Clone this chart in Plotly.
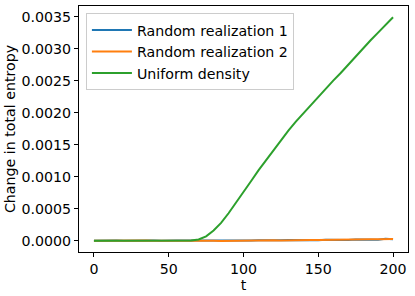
import plotly.graph_objects as go

t = [0, 5, 10, 15, 20, 25, 30, 35, 40, 45, 50, 55, 60, 65, 70, 75, 80, 85, 90, 95, 100,
     105, 110, 115, 120, 125, 130, 135, 140, 145, 150, 155, 160, 165, 170, 175, 180,
     185, 190, 195, 200]

random_1 = [0.0, 0.000004, 0.000006, 0.000003, 0.000002, 0.000005, 0.000003, 0.000006,
            0.000004, 0.000002, 0.000007, 0.000003, 0.000005, 0.000004, 0.000002, 0.000006,
            0.000003, 0.000001, 0.000005, 0.000002, 0.000008, 0.000004, 0.000009, 0.000006,
            0.000010, 0.000007, 0.000012, 0.000009, 0.000011, 0.000014, 0.000010, 0.000016,
            0.000012, 0.000018, 0.000014, 0.000020, 0.000016, 0.000022, 0.000018, 0.000031,
            0.000024]

random_2 = [0.0, 0.000002, 0.000003, 0.000001, 0.000003, 0.000002, 0.000001, 0.000004,
            0.000002, 0.000003, 0.000002, 0.000004, 0.000003, 0.000002, 0.000001, 0.000003,
            0.000000, -0.000002, 0.000001, -0.000001, 0.000002, 0.000004, 0.000003, 0.000006,
            0.000008, 0.000006, 0.000010, 0.000008, 0.000012, 0.000011, 0.000013, 0.000016,
            0.000015, 0.000019, 0.000018, 0.000021, 0.000020, 0.000024, 0.000023, 0.000027,
            0.000026]

uniform = [0.0, 0.0, 0.000001, 0.000001, 0.000001, 0.000001, 0.000001, 0.000001, 0.000001,
           0.000001, 0.000001, 0.000001, 0.000002, 0.000004, 0.00002, 0.00007, 0.00016,
           0.00028, 0.00043, 0.00059, 0.00076, 0.00093, 0.00110, 0.00126, 0.00142, 0.00157,
           0.00172, 0.00186, 0.00199, 0.00212, 0.00225, 0.00237, 0.00250, 0.00262, 0.00275,
           0.00288, 0.00300, 0.00313, 0.00325, 0.00337, 0.00349]

names = ["Random realization 1", "Random realization 2", "Uniform density"]
colors = ["#1f77b4", "#ff7f0e", "#2ca02c"]
x_ticks = [0, 50, 100, 150, 200]
y_ticks = [0.0, 0.0005, 0.0010, 0.0015, 0.0020, 0.0025, 0.0030, 0.0035]

fig = go.Figure()
for name, ys, c in zip(names, [random_1, random_2, uniform], colors):
    fig.add_trace(go.Scatter(x=t, y=ys, mode="lines", name=name,
                             line=dict(color=c, width=2)))

font = dict(family="DejaVu Sans", size=14.2, color="black")
axis_common = dict(showline=True, linecolor="black", linewidth=1, mirror=True,
                   ticks="outside", ticklen=4, tickcolor="black", showgrid=False,
                   zeroline=False, tickfont=font, automargin=False)

fig.update_layout(
    width=415, height=296,
    margin=dict(l=79, r=7, t=6, b=44),
    paper_bgcolor="white", plot_bgcolor="white",
    font=font,
    xaxis=dict(range=[-10, 210], tickvals=x_ticks,
               title=dict(text="t", font=font, standoff=0), **axis_common),
    yaxis=dict(range=[-0.000175, 0.003665], tickvals=y_ticks, tickformat=".4f",
               title=dict(text="Change in total entropy", font=font, standoff=2),
               **axis_common),
    legend=dict(x=0.021, y=0.97, xanchor="left", yanchor="top",
                bgcolor="rgba(255,255,255,0.8)", bordercolor="#cccccc", borderwidth=1,
                font=font, tracegroupgap=0, itemwidth=40),
    showlegend=True,
)

fig.write_html("out.html", config={"displayModeBar": False},
               post_script="document.body.style.margin='0';")
